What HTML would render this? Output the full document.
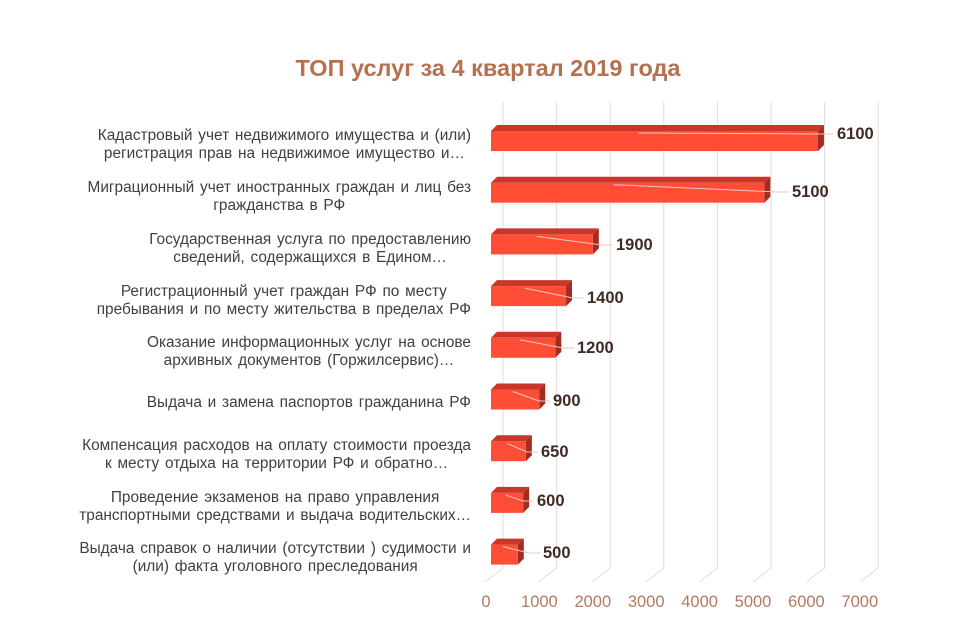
<!DOCTYPE html>
<html><head><meta charset="utf-8"><style>
body{margin:0;background:#fff;width:960px;height:625px;position:relative;overflow:hidden;font-family:"Liberation Sans",sans-serif}
.t{position:absolute;top:55px;left:0;width:976px;text-align:center;font-size:23.5px;font-weight:bold;color:#b5714f}
.c{position:absolute;right:489px;text-align:center;white-space:nowrap;font-size:15.4px;word-spacing:1.5px;line-height:18px;color:#404040}
.ax{position:absolute;top:593px;font-size:16.5px;color:#b27a62;width:60px;text-align:center}
svg{position:absolute;left:0;top:0}
</style></head><body>
<div class="t">ТОП услуг за 4 квартал 2019 года</div>
<svg width="960" height="625">
<g stroke="#e2dcd8" stroke-width="1" fill="none" id="g"></g>
<g id="b"></g>
</svg>
<div class="c" style="top:127px">Кадастровый учет недвижимого имущества и (или)<br>регистрация прав на недвижимое имущество и…</div>
<div class="c" style="top:179px">Миграционный учет иностранных граждан и лиц без<br>гражданства в РФ</div>
<div class="c" style="top:231px">Государственная услуга по предоставлению<br>сведений, содержащихся в Едином…</div>
<div class="c" style="top:283px">Регистрационный учет граждан РФ по месту<br>пребывания и по месту жительства в пределах РФ</div>
<div class="c" style="top:334px">Оказание информационных услуг на основе<br>архивных документов (Горжилсервис)…</div>
<div class="c" style="top:394px">Выдача и замена паспортов гражданина РФ</div>
<div class="c" style="top:437px">Компенсация расходов на оплату стоимости проезда<br>к месту отдыха на территории РФ и обратно…</div>
<div class="c" style="top:489px">Проведение экзаменов на право управления<br>транспортными средствами и выдача водительских…</div>
<div class="c" style="top:540px">Выдача справок о наличии (отсутствии ) судимости и<br>(или) факта уголовного преследования</div>
<script>
var g=document.getElementById('g'),b=document.getElementById('b'),h='';
for(var k=0;k<8;k++){var x=503+53.6*k;h+='<polyline points="'+x+',102 '+x+',568 '+(x-18)+',582"/>';
var d=document.createElement('div');d.className='ax';d.style.left=(486+53.4*k-30)+'px';d.textContent=k*1000;document.body.appendChild(d);}
g.innerHTML=h;
var v=[6100,5100,1900,1400,1200,900,650,600,500],lx=[837,792,616,587,577,553,541,537,543],ly=[139,197,250,303,353,406,457,506,558],s='';
for(var i=0;i<9;i++){var y=131+51.7*i,w=v[i]*0.0536,x0=491,x1=x0+w;
s+='<polygon points="'+x0+','+y+' '+(x0+6)+','+(y-6)+' '+(x1+6)+','+(y-6)+' '+x1+','+y+'" fill="#c8372a"/>';
s+='<polygon points="'+x1+','+y+' '+(x1+6)+','+(y-6)+' '+(x1+6)+','+(y+14)+' '+x1+','+(y+20)+'" fill="#a52a1f"/>';
s+='<rect x="'+x0+'" y="'+y+'" width="'+w+'" height="20" fill="#ff4d36"/>';
s+='<polyline points="'+(x0+w*0.45)+','+(y+2)+' '+(lx[i]-14)+','+(ly[i]-5)+' '+(lx[i]-3)+','+(ly[i]-5)+'" stroke="#e8c8c0" fill="none"/>';
s+='<text x="'+lx[i]+'" y="'+ly[i]+'" font-size="16.5" font-weight="bold" fill="#3f2a24">'+v[i]+'</text>';}
b.innerHTML=s;
</script>
</body></html>
